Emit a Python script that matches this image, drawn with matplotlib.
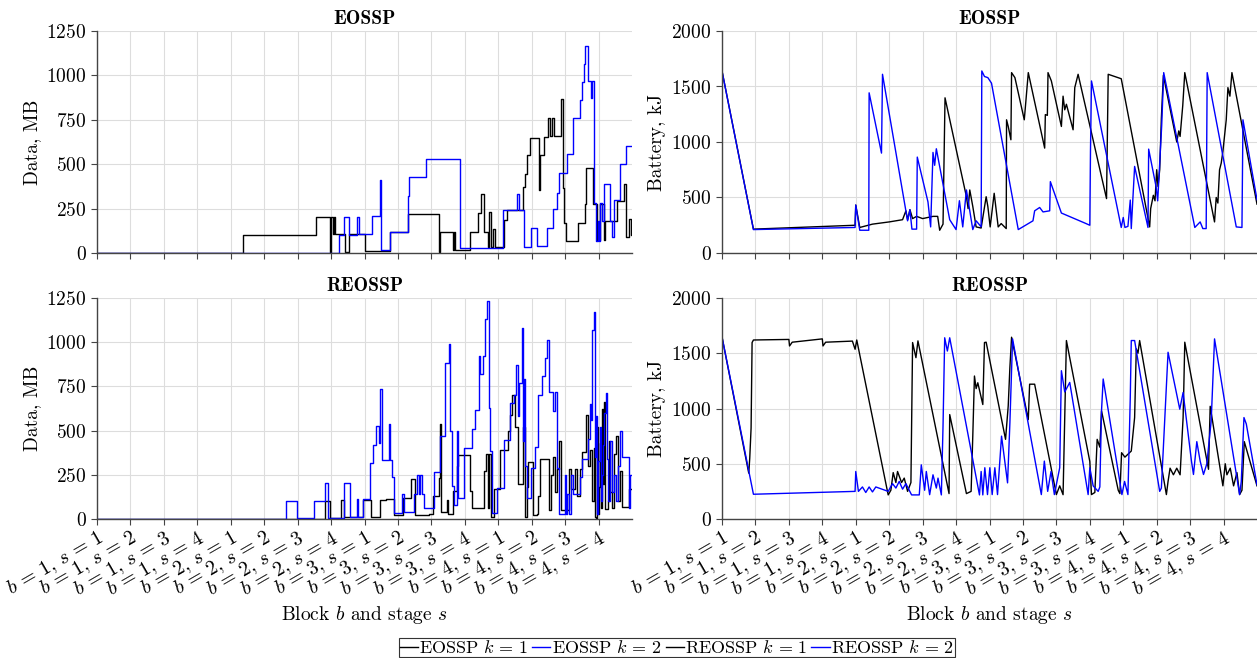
import matplotlib
matplotlib.use("Agg")
import matplotlib.pyplot as plt

plt.rcParams["font.family"] = "cmr10"
plt.rcParams["mathtext.fontset"] = "cm"
plt.rcParams["axes.formatter.use_mathtext"] = True
plt.rcParams["axes.unicode_minus"] = False

# x axis: one unit per stage, 4 blocks x 4 stages
blocks = [1, 2, 3, 4]
stages = [1, 2, 3, 4]
stage_labels = [rf"$b\,=\,{b},\,s\,=\,{s}$" for b in blocks for s in stages]

# data stored (MB), step series
data_eossp_k1_x = [0, 4.37, 6.56, 6.96, 7.0, 7.06, 7.1, 7.12, 7.41, 7.55, 8.0, 8.77, 9.29, 10.24, 10.27, 10.65, 10.68, 10.71, 11.16, 11.4,
                   11.48, 11.58, 11.7, 11.73, 11.77, 11.84, 11.9, 12.16, 12.26, 12.74, 12.8, 12.86, 12.94, 13.21, 13.24, 13.36, 13.5, 13.56, 13.6, 13.66,
                   13.88, 13.94, 13.98, 14.04, 14.38, 14.58, 14.63, 14.83, 14.96, 15.03, 15.15, 15.2, 15.55, 15.75, 15.82, 15.92, 15.97, 16.0]
data_eossp_k1_y = [0, 101, 201, 0, 201, 109, 201, 109, 5, 109, 11, 118, 218, 5, 118, 19, 118, 19, 118, 225,
                   331, 118, 34, 231, 34, 137, 34, 184, 240, 372, 447, 551, 648, 353, 551, 654, 758, 658, 758, 658,
                   867, 367, 169, 68, 169, 274, 479, 278, 71, 278, 71, 180, 290, 391, 90, 190, 100, 100]

data_eossp_k2_x = [0, 7.23, 7.38, 7.54, 7.77, 7.85, 8.23, 8.47, 8.49, 8.77, 9.29, 9.34, 9.83, 10.85, 12.14, 12.55, 12.61, 12.76, 12.97, 13.15,
                   13.46, 13.64, 13.76, 13.82, 14.05, 14.25, 14.45, 14.51, 14.55, 14.6, 14.68, 14.77, 14.79, 14.86, 14.92, 14.97, 15.0, 15.05, 15.1, 15.16,
                   15.35, 15.41, 15.47, 15.65, 15.83, 16.0]
data_eossp_k2_y = [0, 100, 203, 100, 203, 109, 207, 410, 15, 118, 320, 429, 528, 30, 240, 335, 240, 35, 140, 40,
                   140, 245, 340, 450, 560, 760, 860, 965, 1065, 1165, 970, 870, 970, 280, 70, 180, 70, 280, 180, 390,
                   180, 90, 300, 500, 600, 600]

data_reossp_k1_x = [0, 6.82, 6.98, 7.3, 7.4, 7.96, 8.2, 8.47, 8.65, 8.89, 9.14, 9.38, 9.5, 9.93, 10.05, 10.23, 10.26, 10.3, 10.47, 10.5,
                    10.66, 10.78, 10.8, 11.15, 11.2, 11.57, 11.63, 11.69, 11.72, 11.79, 11.88, 12.06, 12.3, 12.36, 12.42, 12.5, 12.58, 12.75, 12.79, 12.85,
                    12.9, 13.03, 13.15, 13.2, 13.26, 13.52, 13.58, 13.64, 13.7, 13.76, 13.82, 13.88, 14.13, 14.19, 14.31, 14.37, 14.43, 14.49, 14.62, 14.68,
                    14.74, 14.8, 14.86, 14.89, 14.92, 14.94, 14.98, 15.01, 15.04, 15.07, 15.1, 15.14, 15.16, 15.2, 15.28, 15.32, 15.34, 15.41, 15.47, 15.53,
                    15.59, 15.65, 15.71, 15.9, 16.0]
data_reossp_k1_y = [0, 100, 5, 105, 10, 110, 10, 110, 115, 20, 120, 225, 25, 30, 130, 230, 540, 40, 110, 30,
                    160, 300, 360, 160, 60, 270, 370, 60, 370, 10, 170, 390, 500, 590, 700, 520, 200, 520, 10, 180,
                    320, 20, 30, 130, 340, 50, 250, 350, 150, 280, 440, 50, 280, 170, 280, 130, 280, 380, 590, 300,
                    390, 100, 400, 10, 0, 520, 30, 180, 430, 60, 620, 200, 660, 55, 100, 440, 150, 60, 370, 470,
                    100, 270, 70, 170, 170]

data_reossp_k2_x = [0, 5.66, 5.98, 6.48, 6.83, 6.9, 7.38, 7.56, 7.77, 7.8, 7.95, 8.17, 8.25, 8.35, 8.44, 8.47, 8.52, 8.72, 8.75, 8.82,
                    8.87, 9.12, 9.17, 9.47, 9.57, 9.62, 9.67, 9.72, 9.77, 10.07, 10.27, 10.42, 10.52, 10.55, 10.62, 10.67, 10.77, 10.8, 10.99, 11.21,
                    11.31, 11.41, 11.46, 11.54, 11.61, 11.66, 11.72, 11.76, 11.81, 11.96, 12.16, 12.36, 12.46, 12.54, 12.58, 12.62, 12.7, 12.73, 12.76, 12.8,
                    12.85, 12.97, 13.1, 13.2, 13.3, 13.4, 13.46, 13.52, 13.64, 13.7, 13.76, 13.82, 14.01, 14.04, 14.07, 14.13, 14.19, 14.25, 14.43, 14.49,
                    14.68, 14.74, 14.77, 14.8, 14.86, 14.88, 14.92, 14.96, 14.99, 15.04, 15.07, 15.1, 15.14, 15.16, 15.22, 15.26, 15.28, 15.34, 15.41, 15.47,
                    15.53, 15.59, 15.65, 15.71, 15.83, 15.9, 15.95, 16.0]
data_reossp_k2_y = [0, 100, 5, 100, 203, 8, 203, 13, 114, 13, 114, 316, 420, 525, 430, 733, 335, 538, 335, 240,
                    32, 140, 42, 140, 250, 140, 250, 140, 60, 265, 468, 885, 989, 496, 184, 80, 496, 117, 400, 507,
                    619, 922, 818, 922, 1130, 1235, 630, 382, 32, 174, 449, 657, 700, 871, 580, 770, 1080, 440, 790, 300,
                    120, 290, 410, 700, 810, 910, 1015, 720, 610, 720, 290, 30, 250, 30, 140, 30, 250, 140, 240, 340,
                    450, 650, 560, 1070, 1170, 350, 580, 30, 330, 520, 100, 250, 420, 600, 710, 340, 100, 440, 150, 250,
                    100, 300, 500, 350, 350, 60, 250, 250]

# battery (kJ)
bat_eossp_k1_x = [0, 0.94, 3.98, 4.0, 4.12, 4.5, 5.0, 5.4, 5.5, 5.55, 5.62, 5.7, 5.82, 6.0, 6.31, 6.45, 6.51, 6.61, 6.67, 7.31,
                  7.36, 7.41, 7.5, 7.6, 7.75, 7.9, 7.95, 8.02, 8.14, 8.26, 8.35, 8.5, 8.51, 8.56, 8.64, 8.66, 8.76, 9.04, 9.08, 9.16,
                  9.65, 9.67, 9.73, 9.75, 9.85, 10.15, 10.2, 10.25, 10.3, 10.5, 10.55, 10.65, 11.5, 11.55, 11.94, 12.79, 12.82, 12.9, 12.95, 13.0,
                  13.04, 13.09, 13.14, 13.2, 13.6, 13.66, 13.7, 13.78, 13.84, 14.73, 14.78, 14.83, 14.88, 14.93, 14.98, 15.08, 15.13, 15.19, 15.25, 16.0]
bat_eossp_k1_y = [1640, 215, 250, 432, 230, 260, 280, 300, 380, 300, 390, 310, 330, 310, 330, 330, 205, 260, 1398, 507,
                  400, 568, 420, 235, 225, 507, 420, 235, 538, 235, 265, 220, 1200, 1140, 1020, 1625, 1580, 1200, 1340, 1625,
                  945, 1247, 1240, 1625, 1550, 1140, 1413, 1290, 1340, 1110, 1490, 1610, 490, 1610, 1570, 235, 400, 520, 470, 750,
                  600, 750, 1217, 1600, 1000, 1100, 1050, 1330, 1625, 280, 500, 450, 750, 810, 915, 1200, 1490, 1413, 1625, 440]

bat_eossp_k2_x = [0, 0.94, 3.98, 4.0, 4.12, 4.39, 4.4, 4.77, 4.8, 5.55, 5.58, 5.62, 5.68, 5.82, 5.84, 6.16, 6.24, 6.31, 6.36, 6.41,
                  6.81, 7.0, 7.1, 7.2, 7.31, 7.5, 7.6, 7.75, 7.77, 7.85, 7.95, 8.06, 8.86, 9.3, 9.35, 9.5, 9.6, 9.8, 9.82, 10.15,
                  10.85, 11.0, 11.02, 11.05, 11.94, 12.0, 12.05, 12.14, 12.21, 12.24, 12.34, 12.74, 12.76, 12.98, 13.03, 13.08, 13.15, 13.21, 14.14, 14.3,
                  14.38, 14.48, 14.51, 15.38, 15.55, 15.58, 16.0]
bat_eossp_k2_y = [1640, 211, 230, 432, 205, 205, 1443, 900, 1610, 290, 330, 390, 215, 215, 864, 460, 235, 906, 790, 939,
                  300, 211, 471, 235, 568, 211, 290, 236, 1640, 1590, 1580, 1530, 211, 290, 380, 410, 370, 380, 643, 360,
                  270, 250, 915, 1550, 230, 320, 230, 240, 477, 220, 780, 230, 936, 600, 470, 750, 1150, 1625, 230, 280,
                  220, 220, 1625, 235, 230, 1200, 480]

bat_reossp_k1_x = [0, 0.8, 0.83, 0.87, 0.9, 0.94, 2.0, 2.02, 2.1, 3.0, 3.02, 3.1, 3.9, 3.98, 4.03, 4.97, 5.05, 5.12, 5.2, 5.25,
                   5.37, 5.45, 5.55, 5.65, 5.7, 5.8, 5.86, 6.79, 6.81, 7.31, 7.45, 7.5, 7.55, 7.6, 7.65, 7.8, 7.85, 7.9, 8.48, 8.56,
                   8.61, 8.66, 9.16, 9.2, 9.35, 10.0, 10.1, 10.2, 10.3, 11.0, 11.05, 11.15, 11.22, 11.3, 11.35, 11.85, 11.9, 11.95, 12.05, 12.24,
                   12.34, 12.39, 12.44, 12.49, 13.29, 13.34, 13.4, 13.5, 13.6, 13.7, 13.79, 13.81, 13.84, 14.55, 14.6, 14.98, 15.05, 15.1, 15.2, 15.3,
                   15.4, 15.48, 15.55, 15.62, 16.0]
bat_reossp_k1_y = [1648, 415, 551, 824, 1597, 1620, 1625, 1566, 1600, 1630, 1566, 1600, 1610, 1536, 1620, 218, 260, 420, 330, 430,
                   330, 370, 250, 330, 1597, 1460, 1612, 230, 945, 230, 250, 750, 1294, 1180, 1233, 1036, 1597, 1600, 721, 1024,
                   1373, 1645, 900, 1220, 1220, 221, 300, 220, 1615, 520, 221, 240, 721, 650, 979, 260, 230, 600, 560, 615,
                   918, 1540, 1500, 1615, 221, 340, 460, 400, 460, 400, 918, 1175, 1600, 450, 1020, 300, 500, 400, 460, 300,
                   420, 221, 260, 700, 300]

bat_reossp_k2_x = [0, 0.94, 3.98, 4.0, 4.08, 4.2, 4.3, 4.4, 4.5, 4.6, 4.97, 5.1, 5.2, 5.3, 5.4, 5.5, 5.67, 5.9, 5.96, 6.06,
                   6.11, 6.21, 6.31, 6.41, 6.46, 6.56, 6.61, 6.66, 6.74, 6.81, 7.7, 7.75, 7.8, 7.86, 7.94, 8.01, 8.08, 8.16, 8.24, 8.36,
                   8.54, 8.61, 8.69, 9.55, 9.64, 9.74, 9.84, 9.94, 10.1, 10.15, 10.25, 10.4, 10.95, 11.0, 11.1, 11.25, 11.3, 11.35, 11.4, 11.96,
                   12.04, 12.14, 12.21, 12.24, 12.34, 13.09, 13.14, 13.34, 13.69, 13.79, 14.04, 14.1, 14.2, 14.3, 14.4, 14.5, 14.63, 14.73, 15.48, 15.53,
                   15.61, 15.68, 16.0]
bat_reossp_k2_y = [1648, 224, 250, 430, 250, 290, 240, 290, 245, 290, 250, 320, 280, 340, 270, 320, 218, 218, 490, 260,
                   430, 220, 400, 280, 370, 218, 840, 1640, 1520, 1640, 218, 430, 218, 464, 221, 464, 221, 464, 221, 750,
                   327, 870, 1630, 221, 524, 250, 430, 221, 464, 1342, 1150, 1236, 221, 464, 300, 250, 290, 980, 1267, 221,
                   340, 221, 1100, 1615, 1615, 250, 280, 1509, 994, 1145, 524, 403, 700, 524, 403, 500, 888, 1630, 221, 340,
                   918, 860, 310]

W, H = 1257, 658
fig = plt.figure(figsize=(W / 100, H / 100), dpi=100)


def make_ax(left, top, width, height):
    return fig.add_axes([left / W, 1 - (top + height) / H, width / W, height / H])


ax_dt = make_ax(97, 31, 535, 222)
ax_db = make_ax(97, 298, 535, 221)
ax_bt = make_ax(722, 31, 535, 222)
ax_bb = make_ax(722, 298, 535, 221)

lw = 1.0
l1, = ax_dt.step(data_eossp_k1_x, data_eossp_k1_y, where="post", color="k", lw=lw)
l2, = ax_dt.step(data_eossp_k2_x, data_eossp_k2_y, where="post", color="b", lw=lw)
l3, = ax_db.step(data_reossp_k1_x, data_reossp_k1_y, where="post", color="k", lw=lw)
l4, = ax_db.step(data_reossp_k2_x, data_reossp_k2_y, where="post", color="b", lw=lw)
ax_bt.plot(bat_eossp_k1_x, bat_eossp_k1_y, color="k", lw=lw)
ax_bt.plot(bat_eossp_k2_x, bat_eossp_k2_y, color="b", lw=lw)
ax_bb.plot(bat_reossp_k1_x, bat_reossp_k1_y, color="k", lw=lw)
ax_bb.plot(bat_reossp_k2_x, bat_reossp_k2_y, color="b", lw=lw)

for ax, title in [(ax_dt, "EOSSP"), (ax_db, "REOSSP"), (ax_bt, "EOSSP"), (ax_bb, "REOSSP")]:
    ax.set_title(title, fontfamily="cmb10", fontsize=14, pad=5)
    ax.set_xlim(0, 16)
    ax.set_xticks(range(16))
    ax.grid(True, color="#dddddd", lw=0.8)
    ax.set_axisbelow(True)
    for s in ["top", "right"]:
        ax.spines[s].set_visible(False)
    for s in ["left", "bottom"]:
        ax.spines[s].set_color("#444444")
        ax.spines[s].set_linewidth(1.0)
    ax.tick_params(direction="out", length=4, width=0.8, color="#444444", labelsize=14)

for ax in [ax_dt, ax_bt]:
    ax.set_xticklabels([])

for ax in [ax_db, ax_bb]:
    ax.set_xticklabels(stage_labels, rotation=30, ha="right", va="top", rotation_mode="anchor", fontsize=14.5)
    ax.tick_params(axis="x", pad=2)
    ax.set_xlabel(r"Block $b$ and stage $s$", fontsize=14, labelpad=2)

for ax in [ax_dt, ax_db]:
    ax.set_ylim(0, 1250)
    ax.set_yticks([0, 250, 500, 750, 1000, 1250])
    ax.set_ylabel("Data, MB", fontsize=14)

for ax in [ax_bt, ax_bb]:
    ax.set_ylim(0, 2000)
    ax.set_yticks([0, 500, 1000, 1500, 2000])
    ax.set_ylabel("Battery, kJ", fontsize=14)

leg = fig.legend([l1, l2, l3, l4],
                 [r"EOSSP $k\,=\,1$", r"EOSSP $k\,=\,2$", r"REOSSP $k\,=\,1$", r"REOSSP $k\,=\,2$"],
                 loc="lower center", bbox_to_anchor=(677 / W, 0.0), ncol=4, fontsize=13,
                 handlelength=1.0, handletextpad=0.1, columnspacing=0.2, borderpad=0.05,
                 borderaxespad=0.05, fancybox=False, framealpha=1, edgecolor="#333333")
leg.get_frame().set_linewidth(0.8)

fig.savefig("out.png", dpi=100)
